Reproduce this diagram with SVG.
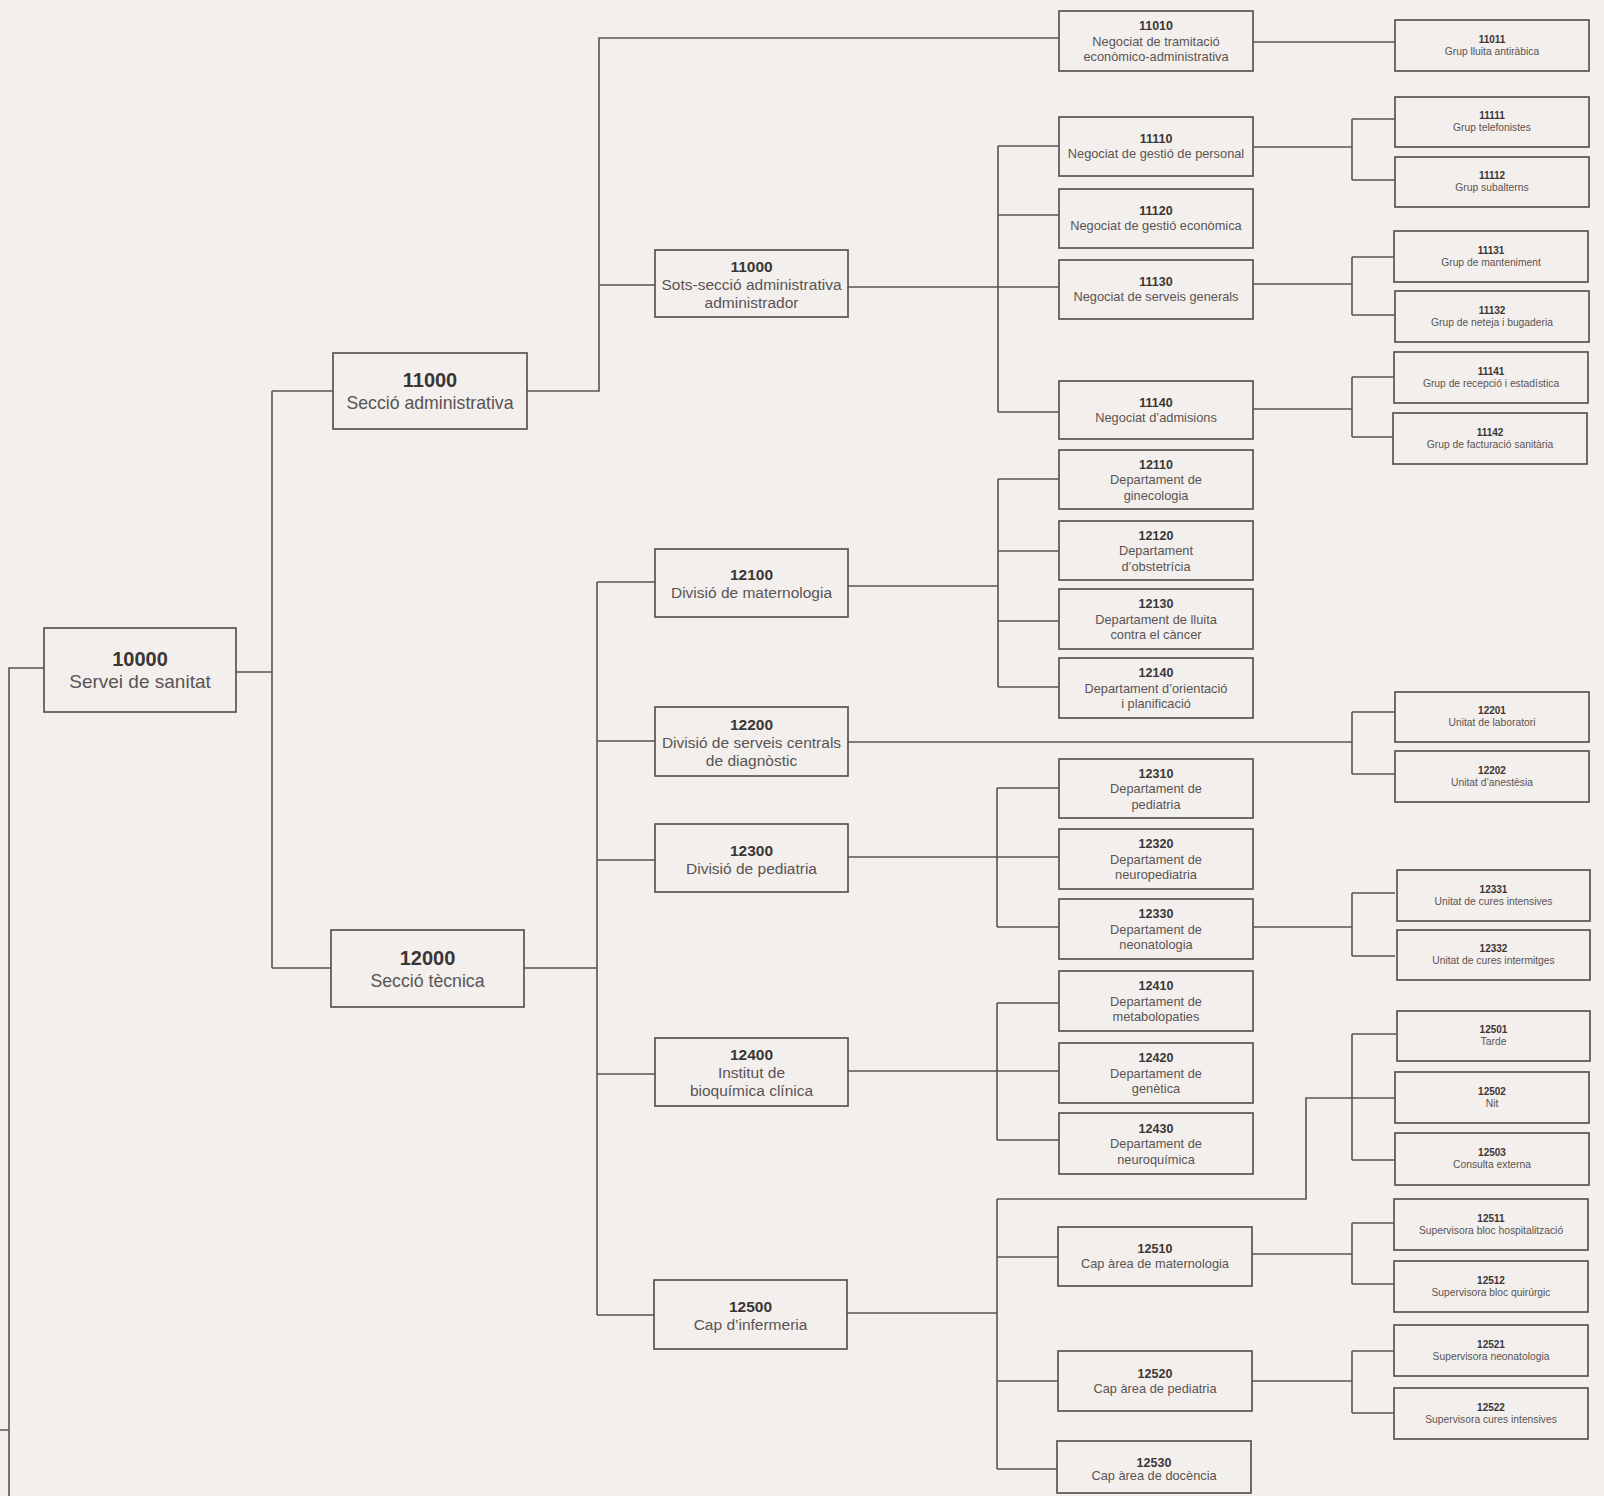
<svg xmlns="http://www.w3.org/2000/svg" width="1604" height="1496" viewBox="0 0 1604 1496">
<style>
.bg{fill:#f3efec}
.box{fill:#f3efec;stroke:#595353;stroke-width:1.7}
.c{fill:none;stroke:#595353;stroke-width:1.6}
text{font-family:"Liberation Sans",Arial,sans-serif;text-anchor:middle}
.n0{font-size:20px;font-weight:bold;fill:#3b3636}
.t0{font-size:19px;fill:#5a5454}
.t0s{font-size:17.7px;fill:#5a5454}
.n1{font-size:15.5px;font-weight:bold;fill:#3b3636}
.t1{font-size:15.5px;fill:#5a5454}
.n2{font-size:12.5px;font-weight:bold;fill:#3b3636}
.t2{font-size:12.8px;fill:#5a5454}
.n3{font-size:10px;font-weight:bold;fill:#3b3636}
.t3{font-size:10.3px;fill:#5a5454}
</style>
<rect class="bg" x="0" y="0" width="1604" height="1496"/>
<g id="connectors">
<path class="c" d="M44 668H9V1496M0 1430H9"/>
<path class="c" d="M236 672H272M272 391V968M272 391H333M272 968H331"/>
<path class="c" d="M527 391H599V38H1059M599 285H655"/>
<path class="c" d="M524 968H597M597 582V1315M597 582H655M597 741H655M597 860H655M597 1074H655M597 1315H654"/>
<path class="c" d="M848 287H1059M998 146V412M998 146H1059M998 215H1059M998 412H1059"/>
<path class="c" d="M848 586H998M998 479V687M998 479H1059M998 551H1059M998 621H1059M998 687H1059"/>
<path class="c" d="M848 742H1352M1352 712V774M1352 712H1395M1352 774H1395"/>
<path class="c" d="M848 857H1059M997 788V927M997 788H1059M997 927H1059"/>
<path class="c" d="M848 1071H1059M997 1003V1140M997 1003H1059M997 1140H1059"/>
<path class="c" d="M847 1313H997M997 1199V1469M997 1199H1306V1098H1395M997 1257H1058M997 1381H1058M997 1469H1057"/>
<path class="c" d="M1253 42H1395"/>
<path class="c" d="M1253 147H1352M1352 119V180M1352 119H1395M1352 180H1395"/>
<path class="c" d="M1253 284H1352M1352 257V315M1352 257H1395M1352 315H1395"/>
<path class="c" d="M1253 409H1352M1352 377V437M1352 377H1395M1352 437H1395"/>
<path class="c" d="M1253 927H1352M1352 893V956M1352 893H1395M1352 956H1395"/>
<path class="c" d="M1352 1034V1160M1352 1034H1396M1352 1160H1395"/>
<path class="c" d="M1252 1254H1352M1352 1223V1284M1352 1223H1395M1352 1284H1395"/>
<path class="c" d="M1252 1381H1352M1352 1351V1413M1352 1351H1395M1352 1413H1395"/>
</g>
<g id="n10000"><rect class="box" x="44" y="628" width="192" height="84"/><text class="n0" x="140" y="666">10000</text><text class="t0" x="140" y="688">Servei de sanitat</text></g>
<g id="n11000"><rect class="box" x="333" y="353" width="194" height="76"/><text class="n0" x="430" y="387">11000</text><text class="t0s" x="430" y="409">Secció administrativa</text></g>
<g id="n12000"><rect class="box" x="331" y="930" width="193" height="77"/><text class="n0" x="427.5" y="965">12000</text><text class="t0s" x="427.5" y="987">Secció tècnica</text></g>

<g id="n11000b"><rect class="box" x="655" y="250" width="193" height="67"/><text class="n1" x="751.5" y="272">11000</text><text class="t1" x="751.5" y="290">Sots-secció administrativa</text><text class="t1" x="751.5" y="308">administrador</text></g>
<g id="n12100"><rect class="box" x="655" y="549" width="193" height="68"/><text class="n1" x="751.5" y="580">12100</text><text class="t1" x="751.5" y="598">Divisió de maternologia</text></g>
<g id="n12200"><rect class="box" x="655" y="707" width="193" height="69"/><text class="n1" x="751.5" y="730">12200</text><text class="t1" x="751.5" y="748">Divisió de serveis centrals</text><text class="t1" x="751.5" y="766">de diagnòstic</text></g>
<g id="n12300"><rect class="box" x="655" y="824" width="193" height="68"/><text class="n1" x="751.5" y="856">12300</text><text class="t1" x="751.5" y="874">Divisió de pediatria</text></g>
<g id="n12400"><rect class="box" x="655" y="1038" width="193" height="68"/><text class="n1" x="751.5" y="1060">12400</text><text class="t1" x="751.5" y="1078">Institut de</text><text class="t1" x="751.5" y="1096">bioquímica clínica</text></g>
<g id="n12500"><rect class="box" x="654" y="1280" width="193" height="69"/><text class="n1" x="750.5" y="1312">12500</text><text class="t1" x="750.5" y="1330">Cap d’infermeria</text></g>

<g id="n11010"><rect class="box" x="1059" y="11" width="194" height="60"/><text class="n2" x="1156" y="30">11010</text><text class="t2" x="1156" y="45.5">Negociat de tramitació</text><text class="t2" x="1156" y="61">econòmico-administrativa</text></g>
<g id="n11110"><rect class="box" x="1059" y="117" width="194" height="59"/><text class="n2" x="1156" y="143">11110</text><text class="t2" x="1156" y="158">Negociat de gestió de personal</text></g>
<g id="n11120"><rect class="box" x="1059" y="189" width="194" height="59"/><text class="n2" x="1156" y="215">11120</text><text class="t2" x="1156" y="230">Negociat de gestió econòmica</text></g>
<g id="n11130"><rect class="box" x="1059" y="260" width="194" height="59"/><text class="n2" x="1156" y="286">11130</text><text class="t2" x="1156" y="301">Negociat de serveis generals</text></g>
<g id="n11140"><rect class="box" x="1059" y="381" width="194" height="58"/><text class="n2" x="1156" y="406.5">11140</text><text class="t2" x="1156" y="421.5">Negociat d’admisions</text></g>
<g id="n12110"><rect class="box" x="1059" y="450" width="194" height="59"/><text class="n2" x="1156" y="468.5">12110</text><text class="t2" x="1156" y="484">Departament de</text><text class="t2" x="1156" y="499.5">ginecologia</text></g>
<g id="n12120"><rect class="box" x="1059" y="521" width="194" height="59"/><text class="n2" x="1156" y="539.5">12120</text><text class="t2" x="1156" y="555">Departament</text><text class="t2" x="1156" y="570.5">d’obstetrícia</text></g>
<g id="n12130"><rect class="box" x="1059" y="589" width="194" height="60"/><text class="n2" x="1156" y="608">12130</text><text class="t2" x="1156" y="623.5">Departament de lluita</text><text class="t2" x="1156" y="639">contra el càncer</text></g>
<g id="n12140"><rect class="box" x="1059" y="658" width="194" height="60"/><text class="n2" x="1156" y="677">12140</text><text class="t2" x="1156" y="692.5">Departament d’orientació</text><text class="t2" x="1156" y="708">i planificació</text></g>
<g id="n12310"><rect class="box" x="1059" y="759" width="194" height="59"/><text class="n2" x="1156" y="777.5">12310</text><text class="t2" x="1156" y="793">Departament de</text><text class="t2" x="1156" y="808.5">pediatria</text></g>
<g id="n12320"><rect class="box" x="1059" y="829" width="194" height="60"/><text class="n2" x="1156" y="848">12320</text><text class="t2" x="1156" y="863.5">Departament de</text><text class="t2" x="1156" y="879">neuropediatria</text></g>
<g id="n12330"><rect class="box" x="1059" y="899" width="194" height="60"/><text class="n2" x="1156" y="918">12330</text><text class="t2" x="1156" y="933.5">Departament de</text><text class="t2" x="1156" y="949">neonatologia</text></g>
<g id="n12410"><rect class="box" x="1059" y="971" width="194" height="60"/><text class="n2" x="1156" y="990">12410</text><text class="t2" x="1156" y="1005.5">Departament de</text><text class="t2" x="1156" y="1021">metabolopaties</text></g>
<g id="n12420"><rect class="box" x="1059" y="1043" width="194" height="60"/><text class="n2" x="1156" y="1062">12420</text><text class="t2" x="1156" y="1077.5">Departament de</text><text class="t2" x="1156" y="1093">genètica</text></g>
<g id="n12430"><rect class="box" x="1059" y="1113" width="194" height="61"/><text class="n2" x="1156" y="1132.5">12430</text><text class="t2" x="1156" y="1148">Departament de</text><text class="t2" x="1156" y="1163.5">neuroquímica</text></g>
<g id="n12510"><rect class="box" x="1058" y="1227" width="194" height="59"/><text class="n2" x="1155" y="1253">12510</text><text class="t2" x="1155" y="1268">Cap àrea de maternologia</text></g>
<g id="n12520"><rect class="box" x="1058" y="1351" width="194" height="60"/><text class="n2" x="1155" y="1377.5">12520</text><text class="t2" x="1155" y="1392.5">Cap àrea de pediatria</text></g>
<g id="n12530"><rect class="box" x="1057" y="1441" width="194" height="52"/><text class="n2" x="1154" y="1467">12530</text><text class="t2" x="1154" y="1480">Cap àrea de docència</text></g>

<g id="n11011"><rect class="box" x="1395" y="20" width="194" height="51"/><text class="n3" x="1492" y="42.5">11011</text><text class="t3" x="1492" y="54.5">Grup lluita antiràbica</text></g>
<g id="n11111"><rect class="box" x="1395" y="97" width="194" height="50"/><text class="n3" x="1492" y="119">11111</text><text class="t3" x="1492" y="131">Grup telefonistes</text></g>
<g id="n11112"><rect class="box" x="1395" y="157" width="194" height="50"/><text class="n3" x="1492" y="179">11112</text><text class="t3" x="1492" y="191">Grup subalterns</text></g>
<g id="n11131"><rect class="box" x="1394" y="231" width="194" height="51"/><text class="n3" x="1491" y="253.5">11131</text><text class="t3" x="1491" y="265.5">Grup de manteniment</text></g>
<g id="n11132"><rect class="box" x="1395" y="291" width="194" height="51"/><text class="n3" x="1492" y="313.5">11132</text><text class="t3" x="1492" y="325.5">Grup de neteja i bugaderia</text></g>
<g id="n11141"><rect class="box" x="1394" y="352" width="194" height="51"/><text class="n3" x="1491" y="374.5">11141</text><text class="t3" x="1491" y="386.5">Grup de recepció i estadística</text></g>
<g id="n11142"><rect class="box" x="1393" y="413" width="194" height="51"/><text class="n3" x="1490" y="435.5">11142</text><text class="t3" x="1490" y="447.5">Grup de facturació sanitària</text></g>
<g id="n12201"><rect class="box" x="1395" y="692" width="194" height="50"/><text class="n3" x="1492" y="714">12201</text><text class="t3" x="1492" y="726">Unitat de laboratori</text></g>
<g id="n12202"><rect class="box" x="1395" y="751" width="194" height="51"/><text class="n3" x="1492" y="773.5">12202</text><text class="t3" x="1492" y="785.5">Unitat d’anestèsia</text></g>
<g id="n12331"><rect class="box" x="1397" y="870" width="193" height="51"/><text class="n3" x="1493.5" y="892.5">12331</text><text class="t3" x="1493.5" y="904.5">Unitat de cures intensives</text></g>
<g id="n12332"><rect class="box" x="1397" y="930" width="193" height="50"/><text class="n3" x="1493.5" y="952">12332</text><text class="t3" x="1493.5" y="964">Unitat de cures intermitges</text></g>
<g id="n12501"><rect class="box" x="1397" y="1011" width="193" height="50"/><text class="n3" x="1493.5" y="1033">12501</text><text class="t3" x="1493.5" y="1045">Tarde</text></g>
<g id="n12502"><rect class="box" x="1395" y="1072" width="194" height="51"/><text class="n3" x="1492" y="1094.5">12502</text><text class="t3" x="1492" y="1106.5">Nit</text></g>
<g id="n12503"><rect class="box" x="1395" y="1133" width="194" height="52"/><text class="n3" x="1492" y="1156">12503</text><text class="t3" x="1492" y="1168">Consulta externa</text></g>
<g id="n12511"><rect class="box" x="1394" y="1199" width="194" height="51"/><text class="n3" x="1491" y="1221.5">12511</text><text class="t3" x="1491" y="1233.5">Supervisora bloc hospitalització</text></g>
<g id="n12512"><rect class="box" x="1394" y="1261" width="194" height="51"/><text class="n3" x="1491" y="1283.5">12512</text><text class="t3" x="1491" y="1295.5">Supervisora bloc quirúrgic</text></g>
<g id="n12521"><rect class="box" x="1394" y="1325" width="194" height="51"/><text class="n3" x="1491" y="1347.5">12521</text><text class="t3" x="1491" y="1359.5">Supervisora neonatologia</text></g>
<g id="n12522"><rect class="box" x="1394" y="1388" width="194" height="51"/><text class="n3" x="1491" y="1410.5">12522</text><text class="t3" x="1491" y="1422.5">Supervisora cures intensives</text></g>
</svg>
